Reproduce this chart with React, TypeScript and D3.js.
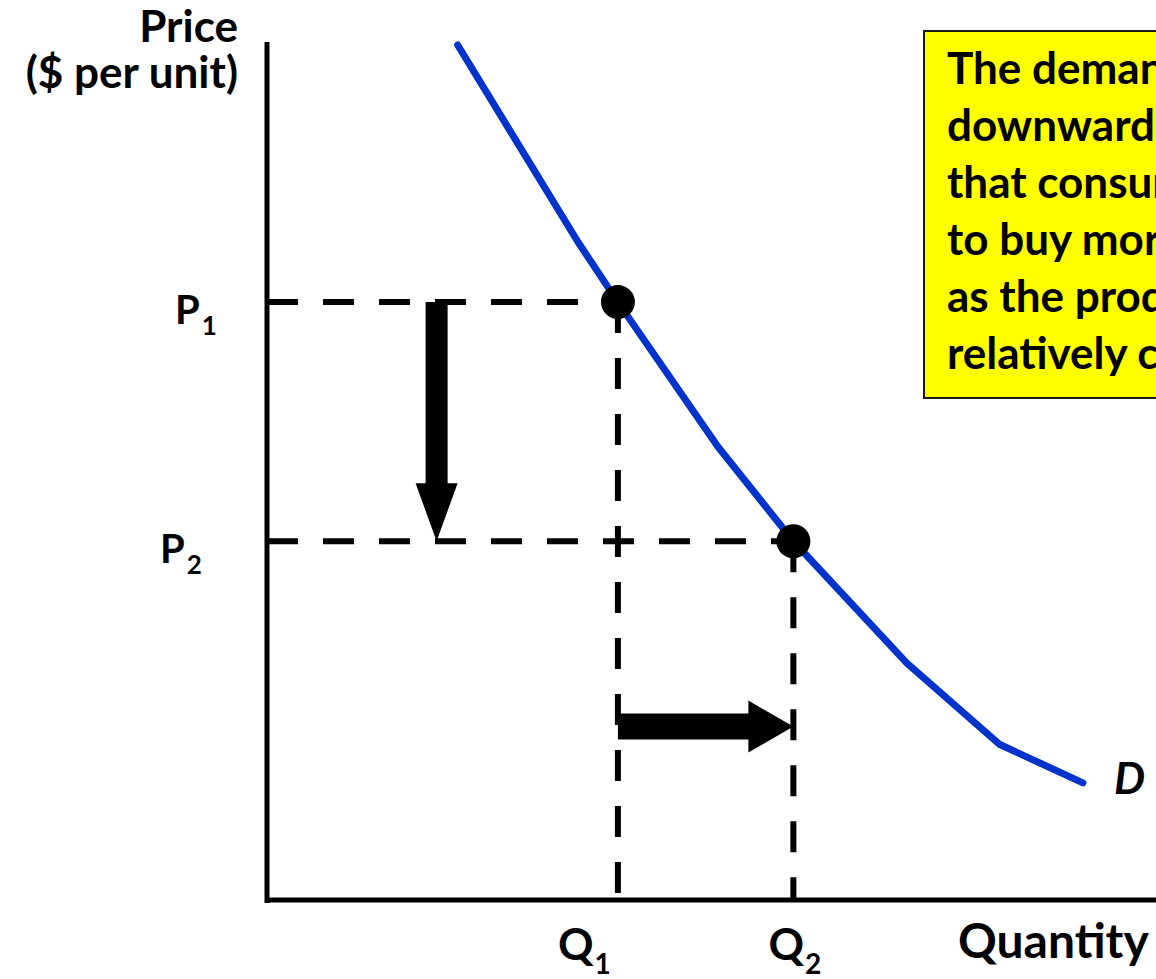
import * as d3 from "d3";
import { useEffect, useRef } from "react";

// demand curve (quantity, price units)
const demandQ = [3.26, 5.32, 6, 7.71, 9, 10.94, 12.53, 13.95];
const demandP = [14.3, 11.0, 10, 7.58, 6, 3.96, 2.6, 1.96];

const priceLevels = [
    { label: "P", sub: "1", value: 10 },
    { label: "P", sub: "2", value: 6 },
];
const quantityLevels = [
    { label: "Q", sub: "1", value: 6 },
    { label: "Q", sub: "2", value: 9 },
];

const noteLines = [
    "The demand curve slopes",
    "downward, which reflects",
    "that consumers are willing",
    "to buy more of a product",
    "as the product becomes",
    "relatively cheaper.",
];

const arrowAt = 2.9; // where the two shift arrows sit

export default function App() {
    const ref = useRef<SVGSVGElement | null>(null);

    useEffect(() => {
        if (!ref.current) return;
        const width = 1156;
        const height = 979;
        const font = "Lato, 'Open Sans', sans-serif";

        const svg = d3.select(ref.current);
        svg.selectAll("*").remove();

        const x = d3.scaleLinear().domain([0, 15.2]).range([267, 1156]);
        const y = d3.scaleLinear().domain([0, 14.35]).range([900, 42]);

        // axes
        svg.append("line")
            .attr("x1", x(0)).attr("x2", x(0))
            .attr("y1", y(14.35)).attr("y2", y(0) + 3)
            .attr("stroke", "#000").attr("stroke-width", 5);
        svg.append("line")
            .attr("x1", x(0)).attr("x2", width)
            .attr("y1", y(0)).attr("y2", y(0))
            .attr("stroke", "#000").attr("stroke-width", 5);

        // dashed guides
        const pts = priceLevels.map((p, i) => ({ p: p.value, q: quantityLevels[i].value }));
        const dash = { stroke: "#000", "stroke-width": 6, "stroke-dasharray": "31 25" };
        pts.forEach((d) => {
            const h = svg.append("line")
                .attr("x1", x(0)).attr("x2", x(d.q))
                .attr("y1", y(d.p)).attr("y2", y(d.p));
            const v = svg.append("line")
                .attr("x1", x(d.q)).attr("x2", x(d.q))
                .attr("y1", y(d.p)).attr("y2", y(0));
            Object.entries(dash).forEach(([k, val]) => {
                h.attr(k, val as any);
                v.attr(k, val as any);
            });
        });

        // demand curve
        const line = d3.line<number>()
            .x((_, i) => x(demandQ[i]))
            .y((d) => y(d));
        svg.append("path")
            .attr("d", line(demandP))
            .attr("fill", "none")
            .attr("stroke", "#0033cc")
            .attr("stroke-width", 7)
            .attr("stroke-linecap", "round")
            .attr("stroke-linejoin", "round");

        // points
        svg.selectAll("circle.pt")
            .data(pts)
            .join("circle")
            .attr("cx", (d) => x(d.q))
            .attr("cy", (d) => y(d.p))
            .attr("r", 17)
            .attr("fill", "#000");

        // down arrow (price falls)
        const poly = d3.line();
        const ax = x(arrowAt);
        const yTop = y(priceLevels[0].value);
        const yTip = y(priceLevels[1].value);
        const sw = 11, hw = 21, hl = 58;
        svg.append("path")
            .attr("d", poly([
                [ax - sw, yTop], [ax + sw, yTop], [ax + sw, yTip - hl], [ax + hw, yTip - hl],
                [ax, yTip], [ax - hw, yTip - hl], [ax - sw, yTip - hl],
            ]) + "Z")
            .attr("fill", "#000");

        // right arrow (quantity rises)
        const ay = y(arrowAt);
        const xStart = x(quantityLevels[0].value);
        const xTip = x(quantityLevels[1].value);
        const sh = 13, hh = 26, hlx = 45;
        svg.append("path")
            .attr("d", poly([
                [xStart, ay - sh], [xTip - hlx, ay - sh], [xTip - hlx, ay - hh], [xTip, ay],
                [xTip - hlx, ay + hh], [xTip - hlx, ay + sh], [xStart, ay + sh],
            ]) + "Z")
            .attr("fill", "#000");

        // axis labels
        const lab = svg.append("g").attr("font-family", font).attr("font-weight", 700).attr("fill", "#000");
        lab.append("text").attr("x", 238).attr("y", 42).attr("text-anchor", "end")
            .attr("font-size", 44).text("Price");
        lab.append("text").attr("x", 238).attr("y", 88).attr("text-anchor", "end")
            .attr("font-size", 44).text("($ per unit)");
        lab.append("text").attr("x", 958).attr("y", 958)
            .attr("font-size", 48).text("Quantity");
        lab.append("text").attr("x", 1114).attr("y", 794)
            .attr("font-size", 44).attr("font-style", "italic").text("D");

        // P labels
        const pl = lab.selectAll("text.p")
            .data(priceLevels)
            .join("text")
            .attr("x", (_, i) => (i === 0 ? 175 : 160))
            .attr("y", (d) => y(d.value) + 22)
            .attr("font-size", 40);
        pl.append("tspan").text((d) => d.label);
        pl.append("tspan").attr("dx", 2).attr("dy", 11).attr("font-size", 26).text((d) => d.sub);

        // Q labels
        const ql = lab.selectAll("text.q")
            .data(quantityLevels)
            .join("text")
            .attr("x", (d, i) => x(d.value) - (i === 0 ? 60 : 25))
            .attr("y", 960)
            .attr("font-size", 44);
        ql.append("tspan").text((d) => d.label);
        ql.append("tspan").attr("dx", 1).attr("dy", 14).attr("font-size", 28).text((d) => d.sub);

        // note box
        svg.append("rect")
            .attr("x", 924).attr("y", 31)
            .attr("width", 400).attr("height", 367)
            .attr("fill", "#ffff00")
            .attr("stroke", "#1a1a1a")
            .attr("stroke-width", 2);
        svg.append("g")
            .attr("font-family", font).attr("font-weight", 700).attr("font-size", 44)
            .selectAll("text")
            .data(noteLines)
            .join("text")
            .attr("x", 947)
            .attr("y", (_, i) => 84 + i * 57)
            .text((d) => d);

        svg.attr("width", width).attr("height", height);
    }, []);

    return (
        <div style={{ position: "absolute", left: 0, top: 0 }}>
            <svg ref={ref} width={1156} height={979} style={{ display: "block", background: "#fff" }}></svg>
        </div>
    );
}
